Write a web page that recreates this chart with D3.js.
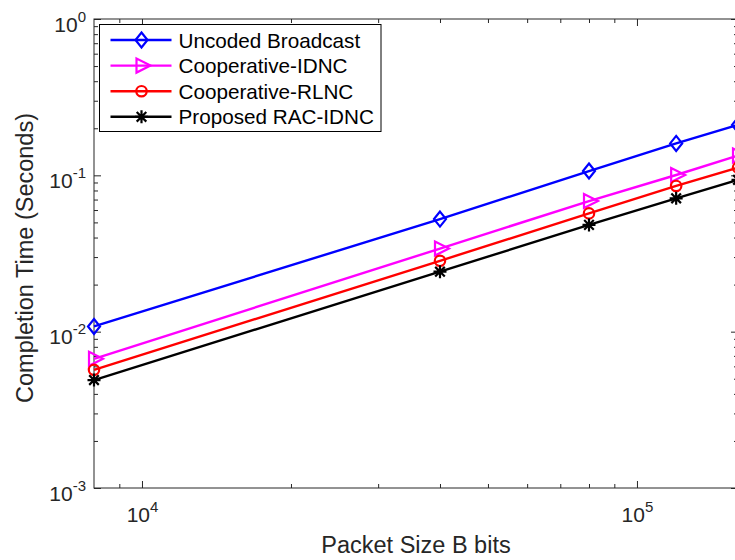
<!DOCTYPE html>
<html>
<head>
<meta charset="utf-8">
<script src="https://cdn.jsdelivr.net/npm/d3@7"></script>
<style>
  body { margin: 0; background: #fff; }
  svg { display: block; font-family: "Liberation Sans", Arial, Helvetica, sans-serif; }
</style>
</head>
<body>
<svg width="735" height="560"></svg>
<script>
(function (d3) {
  'use strict';

  // packet sizes (bits) and completion times (seconds)
  const packetSizes = [8000, 40000, 80000, 120000, 160000];
  const uncoded     = [0.0108, 0.0525, 0.1065, 0.160, 0.210];
  const coopIdnc    = [0.0067, 0.0340, 0.0685, 0.1005, 0.134];
  const coopRlnc    = [0.0057, 0.0284, 0.0571, 0.0855, 0.112];
  const proposed    = [0.0049, 0.0242, 0.0482, 0.0713, 0.0936];

  const seriesNames = ['Uncoded Broadcast', 'Cooperative-IDNC', 'Cooperative-RLNC', 'Proposed RAC-IDNC'];
  const xMajorTicks = [1e4, 1e5];
  const xTickExp = ['4', '5'];
  const yMajorTicks = [1e-3, 1e-2, 1e-1, 1];
  const yTickExp = ['-3', '-2', '-1', '0'];

  const series = [
    { name: seriesNames[0], values: uncoded,  color: '#0000ff', marker: 'diamond' },
    { name: seriesNames[1], values: coopIdnc, color: '#ff00ff', marker: 'triangle' },
    { name: seriesNames[2], values: coopRlnc, color: '#ff0000', marker: 'circle' },
    { name: seriesNames[3], values: proposed, color: '#000000', marker: 'asterisk' }
  ];

  const svg = d3.select('svg');
  const axisColor = '#262626';
  const plot = { left: 94, right: 738, top: 19, bottom: 488 };

  const xScale = d3.scaleLog().domain([8000, 160000]).range([plot.left, plot.right]);
  const yScale = d3.scaleLog().domain([1e-3, 1]).range([plot.bottom, plot.top]);

  // minor ticks
  const xMinor = [];
  [1e3, 1e4, 1e5].forEach(base => {
    for (let k = 2; k <= 9; k++) {
      const v = base * k;
      if (v > 8000 && v < 160000 && v !== 1e4 && v !== 1e5) xMinor.push(v);
    }
  });
  const yMinor = [];
  [1e-3, 1e-2, 1e-1].forEach(base => {
    for (let k = 2; k <= 9; k++) yMinor.push(base * k);
  });

  const styleAxis = g => {
    g.selectAll('.domain').remove();
    g.selectAll('line').attr('stroke', axisColor).attr('stroke-width', 1);
  };

  // bottom / top
  svg.append('g').attr('transform', `translate(0,${plot.bottom})`)
    .call(d3.axisBottom(xScale).tickValues(xMinor).tickSize(-4).tickFormat(''))
    .call(styleAxis);
  svg.append('g').attr('transform', `translate(0,${plot.top})`)
    .call(d3.axisTop(xScale).tickValues(xMinor).tickSize(-4).tickFormat(''))
    .call(styleAxis);
  svg.append('g').attr('transform', `translate(0,${plot.top})`)
    .call(d3.axisTop(xScale).tickValues(xMajorTicks).tickSize(-7).tickFormat(''))
    .call(styleAxis);
  const xAxisG = svg.append('g').attr('transform', `translate(0,${plot.bottom})`)
    .call(d3.axisBottom(xScale).tickValues(xMajorTicks).tickSize(-7).tickPadding(0).tickFormat(''))
    .call(styleAxis);
  xAxisG.selectAll('.tick text').remove();
  xAxisG.selectAll('.tick').append('text')
    .attr('y', 34)
    .attr('fill', axisColor)
    .attr('font-size', 21)
    .attr('text-anchor', 'middle')
    .each(function (d, i) {
      const t = d3.select(this);
      t.append('tspan').text('10');
      t.append('tspan').attr('font-size', 15).attr('dy', -10).text(xTickExp[i]);
    });

  // left / right
  svg.append('g').attr('transform', `translate(${plot.left},0)`)
    .call(d3.axisLeft(yScale).tickValues(yMinor).tickSize(-4).tickFormat(''))
    .call(styleAxis);
  svg.append('g').attr('transform', `translate(${plot.right},0)`)
    .call(d3.axisRight(yScale).tickValues(yMinor).tickSize(-4).tickFormat(''))
    .call(styleAxis);
  svg.append('g').attr('transform', `translate(${plot.right},0)`)
    .call(d3.axisRight(yScale).tickValues(yMajorTicks).tickSize(-7).tickFormat(''))
    .call(styleAxis);
  const yAxisG = svg.append('g').attr('transform', `translate(${plot.left},0)`)
    .call(d3.axisLeft(yScale).tickValues(yMajorTicks).tickSize(-7).tickFormat(''))
    .call(styleAxis);
  yAxisG.selectAll('.tick text').remove();
  yAxisG.selectAll('.tick').append('text')
    .attr('x', -8)
    .attr('y', 12)
    .attr('fill', axisColor)
    .attr('font-size', 21)
    .attr('text-anchor', 'end')
    .each(function (d, i) {
      const t = d3.select(this);
      t.append('tspan').text('10');
      t.append('tspan').attr('font-size', 15).attr('dy', -10).text(yTickExp[i]);
    });

  // box
  svg.append('rect')
    .attr('x', plot.left).attr('y', plot.top)
    .attr('width', plot.right - plot.left).attr('height', plot.bottom - plot.top)
    .attr('fill', 'none').attr('stroke', axisColor).attr('stroke-width', 1);

  // axis labels
  svg.append('text')
    .attr('x', 416)
    .attr('y', 553)
    .attr('text-anchor', 'middle')
    .attr('fill', axisColor)
    .attr('font-size', 23.5)
    .text('Packet Size B bits');

  svg.append('text')
    .attr('transform', `translate(33,258) rotate(-90)`)
    .attr('text-anchor', 'middle')
    .attr('fill', axisColor)
    .attr('font-size', 23.5)
    .text('Completion Time (Seconds)');

  // markers
  const drawMarker = (g, type, color) => {
    if (type === 'diamond') {
      g.append('path').attr('d', 'M0,-7.5L6,0L0,7.5L-6,0Z')
        .attr('fill', 'none').attr('stroke', color).attr('stroke-width', 2.2);
    } else if (type === 'triangle') {
      g.append('path').attr('d', 'M-5,-7L-5,7L9,0Z')
        .attr('fill', 'none').attr('stroke', color).attr('stroke-width', 2.2);
    } else if (type === 'circle') {
      g.append('circle').attr('r', 5.2)
        .attr('fill', 'none').attr('stroke', color).attr('stroke-width', 2.2);
    } else {
      g.append('path').attr('d', 'M0,-6.5L0,6.5M-6.5,0L6.5,0M-4.8,-4.8L4.8,4.8M-4.8,4.8L4.8,-4.8')
        .attr('fill', 'none').attr('stroke', color).attr('stroke-width', 2.2);
    }
  };

  const line = d3.line()
    .x(d => xScale(d.x))
    .y(d => yScale(d.y));

  series.forEach(s => {
    const pts = packetSizes.map((x, i) => ({ x, y: s.values[i] }));
    svg.append('path')
      .datum(pts)
      .attr('d', line)
      .attr('fill', 'none')
      .attr('stroke', s.color)
      .attr('stroke-width', 2.4);
    pts.forEach(p => {
      const g = svg.append('g').attr('transform', `translate(${xScale(p.x)},${yScale(p.y)})`);
      drawMarker(g, s.marker, s.color);
    });
  });

  // legend
  const legend = svg.append('g').attr('transform', 'translate(99.5,24.5)');
  legend.append('rect')
    .attr('width', 281.5).attr('height', 107)
    .attr('fill', '#fff').attr('stroke', '#000').attr('stroke-width', 1);
  series.forEach((s, i) => {
    const row = legend.append('g').attr('transform', `translate(0,${15.5 + i * 25.6})`);
    row.append('line').attr('x1', 11).attr('x2', 72)
      .attr('stroke', s.color).attr('stroke-width', 2.4);
    drawMarker(row.append('g').attr('transform', 'translate(42,0)'), s.marker, s.color);
    row.append('text')
      .attr('x', 79).attr('y', 7.5)
      .attr('font-size', 20.7)
      .attr('fill', '#000')
      .text(s.name);
  });

}(d3));
</script>
</body>
</html>
